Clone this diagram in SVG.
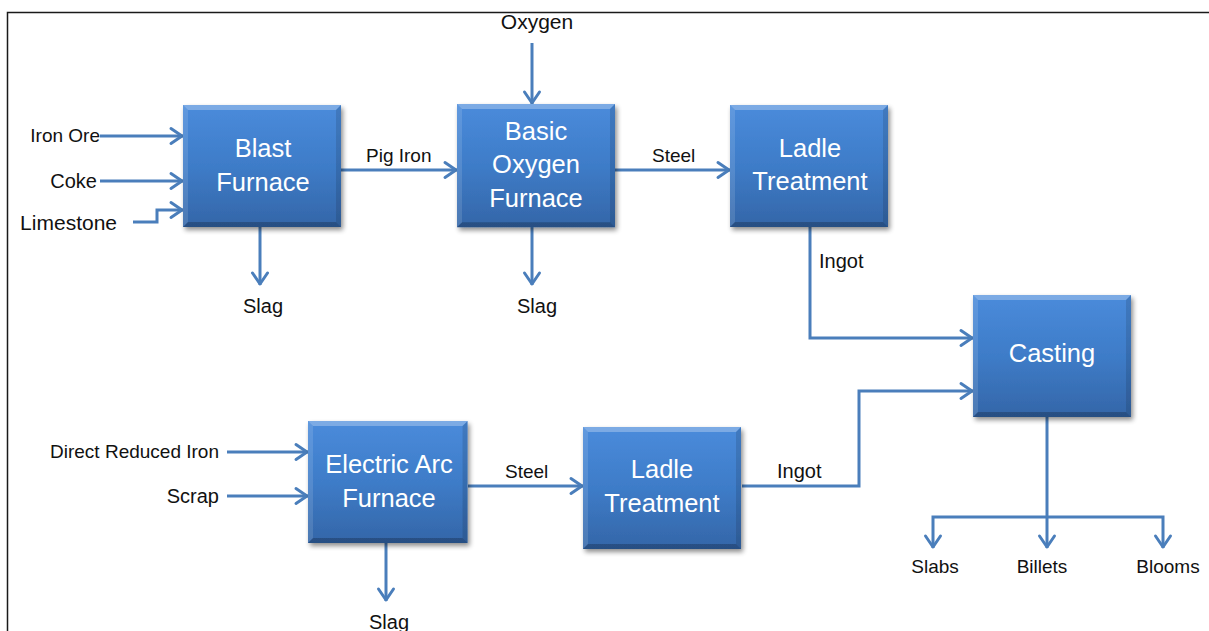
<svg xmlns="http://www.w3.org/2000/svg" xmlns:xlink="http://www.w3.org/1999/xlink" width="1209" height="631" viewBox="0 0 1209 631">
<defs>
<style>
.lbl{font-family:"Liberation Sans",Arial,sans-serif;font-size:19px;fill:#111;}
.bt{font-family:"Liberation Sans",Arial,sans-serif;font-size:25.5px;fill:#fff;text-anchor:middle;}
.con{fill:none;stroke:#4A7EBB;stroke-width:3;stroke-linejoin:miter;}
.arr{marker-end:url(#ah);}
</style>
<linearGradient id="g" x1="0" y1="0" x2="0" y2="1">
<stop offset="0" stop-color="#4A8BDB"/>
<stop offset="0.5" stop-color="#3E7CC8"/>
<stop offset="1" stop-color="#3466A8"/>
</linearGradient>
<filter id="sh" x="-10%" y="-10%" width="125%" height="130%">
<feGaussianBlur in="SourceAlpha" stdDeviation="2.5"/>
<feOffset dx="2" dy="3" result="b"/>
<feComponentTransfer><feFuncA type="linear" slope="0.45"/></feComponentTransfer>
<feMerge><feMergeNode/><feMergeNode in="SourceGraphic"/></feMerge>
</filter>
<marker id="ah" markerUnits="userSpaceOnUse" markerWidth="18" markerHeight="20" refX="15" refY="10" orient="auto">
<path d="M3,2.5 L14,10 L3,17.5" fill="none" stroke="#4A7EBB" stroke-width="3" stroke-linecap="round" stroke-linejoin="round"/>
</marker>
<g id="box">
<rect x="0" y="0" width="158" height="122" fill="url(#g)"/>
<polygon points="0,0 158,0 153,5 5,5" fill="#FFFFFF" fill-opacity="0.28"/>
<polygon points="0,0 5,5 5,117 0,122" fill="#FFFFFF" fill-opacity="0.12"/>
<polygon points="158,0 158,122 153,117 153,5" fill="#000000" fill-opacity="0.12"/>
<polygon points="0,122 158,122 153,117 5,117" fill="#000000" fill-opacity="0.22"/>
</g>
</defs>
<rect x="0" y="0" width="1209" height="631" fill="#fff"/>
<path d="M7.5,631 L7.5,12.5 L1209,12.5" fill="none" stroke="#1a1a1a" stroke-width="1.5"/>

<g id="connectors">
<path class="con arr" d="M100,136 L183,136"/>
<path class="con arr" d="M100,181 L183,181"/>
<path class="con arr" d="M133,222 L157,222 L157,210 L183,210"/>
<path class="con arr" d="M260,226 L260,285"/>
<path class="con arr" d="M341,170 L457,170"/>
<path class="con arr" d="M532,43 L532,104"/>
<path class="con arr" d="M532,227 L532,285"/>
<path class="con arr" d="M615,170 L730,170"/>
<path class="con arr" d="M810,227 L810,338 L973,338"/>
<path class="con arr" d="M227,452 L308,452"/>
<path class="con arr" d="M227,496 L308,496"/>
<path class="con arr" d="M386,542 L386,601"/>
<path class="con arr" d="M468,486 L583,486"/>
<path class="con arr" d="M742,486 L859,486 L859,391 L973,391"/>
<path class="con" d="M1047,416 L1047,517"/>
<path class="con arr" d="M1047,517 L1047,548"/>
<path class="con arr" d="M1047,517 L933,517 L933,548"/>
<path class="con arr" d="M1047,517 L1163,517 L1163,548"/>
<text class="lbl" x="366" y="162">Pig Iron</text>
<text class="lbl" x="652" y="162">Steel</text>
<text class="lbl" x="819" y="268" style="font-size:20px">Ingot</text>
<text class="lbl" x="505" y="478">Steel</text>
<text class="lbl" x="777" y="478" style="font-size:20px">Ingot</text>
</g>

<g id="inputs">
<text class="lbl" x="100" y="142" text-anchor="end">Iron Ore</text>
<text class="lbl" x="97" y="188" text-anchor="end" style="font-size:20px">Coke</text>
<text class="lbl" x="117" y="230" text-anchor="end" style="font-size:21px">Limestone</text>
<text class="lbl" x="537" y="29" text-anchor="middle" style="font-size:21px">Oxygen</text>
<text class="lbl" x="219" y="458" text-anchor="end">Direct Reduced Iron</text>
<text class="lbl" x="219" y="503" text-anchor="end" style="font-size:20px">Scrap</text>
</g>

<g id="outputs">
<text class="lbl" x="263" y="313" text-anchor="middle" style="font-size:20px">Slag</text>
<text class="lbl" x="537" y="313" text-anchor="middle" style="font-size:20px">Slag</text>
<text class="lbl" x="389" y="629" text-anchor="middle" style="font-size:20px">Slag</text>
<text class="lbl" x="935" y="573" text-anchor="middle">Slabs</text>
<text class="lbl" x="1042" y="573" text-anchor="middle">Billets</text>
<text class="lbl" x="1168" y="573" text-anchor="middle">Blooms</text>
</g>

<g id="blast-furnace">
<use xlink:href="#box" href="#box" transform="translate(183,105)" filter="url(#sh)"/>
<text class="bt" x="263" y="157">Blast</text>
<text class="bt" x="263" y="191">Furnace</text>
</g>
<g id="basic-oxygen-furnace">
<use xlink:href="#box" href="#box" transform="translate(457,104) scale(1,1.01)" filter="url(#sh)"/>
<text class="bt" x="536" y="140">Basic</text>
<text class="bt" x="536" y="173">Oxygen</text>
<text class="bt" x="536" y="207">Furnace</text>
</g>
<g id="ladle-treatment-1">
<use xlink:href="#box" href="#box" transform="translate(730,105)" filter="url(#sh)"/>
<text class="bt" x="810" y="157">Ladle</text>
<text class="bt" x="810" y="190">Treatment</text>
</g>
<g id="casting">
<use xlink:href="#box" href="#box" transform="translate(973,295)" filter="url(#sh)"/>
<text class="bt" x="1052" y="362">Casting</text>
</g>
<g id="electric-arc-furnace">
<use xlink:href="#box" href="#box" transform="translate(308,421) scale(1.01,1)" filter="url(#sh)"/>
<text class="bt" x="389" y="473">Electric Arc</text>
<text class="bt" x="389" y="507">Furnace</text>
</g>
<g id="ladle-treatment-2">
<use xlink:href="#box" href="#box" transform="translate(583,427)" filter="url(#sh)"/>
<text class="bt" x="662" y="478">Ladle</text>
<text class="bt" x="662" y="512">Treatment</text>
</g>
</svg>
